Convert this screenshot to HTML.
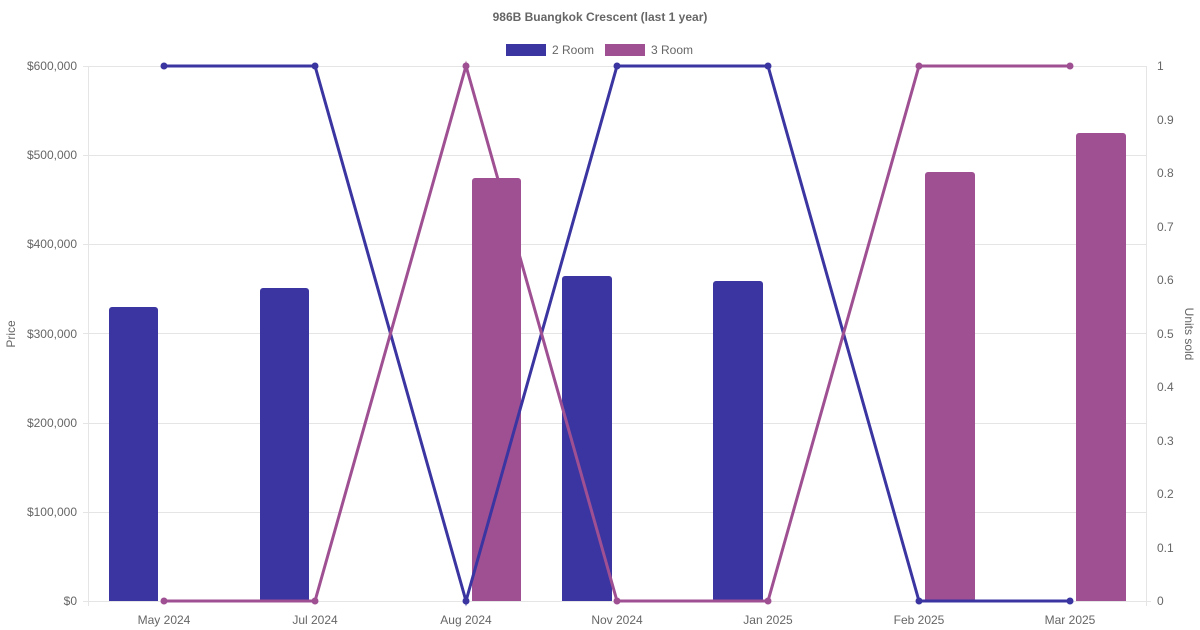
<!DOCTYPE html>
<html><head><style>body{margin:0;background:#fff}svg{display:block}text{font-family:"Liberation Sans",Arial,sans-serif}</style></head>
<body>
<svg width="1200" height="630" xmlns="http://www.w3.org/2000/svg">
<text x="600" y="21" text-anchor="middle" font-size="12" font-weight="bold" fill="#666">986B Buangkok Crescent (last 1 year)</text>
<rect x="506" y="44" width="40" height="12" fill="#3a35a0"/>
<text x="552" y="54" font-size="12" fill="#666">2 Room</text>
<rect x="605" y="44" width="40" height="12" fill="#9f5093"/>
<text x="651" y="54" font-size="12" fill="#666">3 Room</text>
<g stroke="#e5e5e5" stroke-width="1">
<line x1="83" y1="66.5" x2="1146" y2="66.5"/>
<line x1="83" y1="155.5" x2="1146" y2="155.5"/>
<line x1="83" y1="244.5" x2="1146" y2="244.5"/>
<line x1="83" y1="333.5" x2="1146" y2="333.5"/>
<line x1="83" y1="423.5" x2="1146" y2="423.5"/>
<line x1="83" y1="512.5" x2="1146" y2="512.5"/>
<line x1="83" y1="601.5" x2="1151" y2="601.5"/>
<line x1="88.5" y1="66" x2="88.5" y2="606"/>
<line x1="1146.5" y1="66" x2="1146.5" y2="606"/>
</g>
<g font-size="12" fill="#666" text-anchor="end">
<text x="77" y="70">$600,000</text><text x="77" y="159">$500,000</text><text x="77" y="248">$400,000</text><text x="77" y="338">$300,000</text><text x="77" y="427">$200,000</text><text x="77" y="516">$100,000</text><text x="77" y="605">$0</text>
</g>
<g font-size="12" fill="#666">
<text x="1157" y="70">1</text><text x="1157" y="124">0.9</text><text x="1157" y="177">0.8</text><text x="1157" y="231">0.7</text><text x="1157" y="284">0.6</text><text x="1157" y="338">0.5</text><text x="1157" y="391">0.4</text><text x="1157" y="445">0.3</text><text x="1157" y="498">0.2</text><text x="1157" y="552">0.1</text><text x="1157" y="605">0</text>
</g>
<text transform="translate(15,334) rotate(-90)" text-anchor="middle" font-size="12" fill="#666">Price</text>
<text transform="translate(1185,334) rotate(90)" text-anchor="middle" font-size="12" fill="#666">Units sold</text>
<g font-size="12" fill="#666" text-anchor="middle">
<text x="164" y="624">May 2024</text><text x="315" y="624">Jul 2024</text><text x="466" y="624">Aug 2024</text><text x="617" y="624">Nov 2024</text><text x="768" y="624">Jan 2025</text><text x="919" y="624">Feb 2025</text><text x="1070" y="624">Mar 2025</text>
</g>
<g fill="#3a35a0">
<path d="M109,601V310a3,3 0 0 1 3,-3H155a3,3 0 0 1 3,3V601Z"/>
<path d="M260,601V291a3,3 0 0 1 3,-3H306a3,3 0 0 1 3,3V601Z"/>
<path d="M562,601V279a3,3 0 0 1 3,-3H609a3,3 0 0 1 3,3V601Z"/>
<path d="M713,601V284a3,3 0 0 1 3,-3H760a3,3 0 0 1 3,3V601Z"/>
</g>
<g fill="#9f5093">
<path d="M472,601V181a3,3 0 0 1 3,-3H518a3,3 0 0 1 3,3V601Z"/>
<path d="M925,601V175a3,3 0 0 1 3,-3H972a3,3 0 0 1 3,3V601Z"/>
<path d="M1076,601V136a3,3 0 0 1 3,-3H1123a3,3 0 0 1 3,3V601Z"/>
</g>
<polyline fill="none" stroke="#3a35a0" stroke-width="3" points="164,66 315,66 466,601 617,66 768,66 919,601 1070,601"/>
<polyline fill="none" stroke="#9f5093" stroke-width="3" points="164,601 315,601 466,66 617,601 768,601 919,66 1070,66"/>
<g fill="#3a35a0"><circle cx="164" cy="66" r="3.5"/><circle cx="315" cy="66" r="3.5"/><circle cx="466" cy="601" r="3.5"/><circle cx="617" cy="66" r="3.5"/><circle cx="768" cy="66" r="3.5"/><circle cx="919" cy="601" r="3.5"/><circle cx="1070" cy="601" r="3.5"/></g>
<g fill="#9f5093"><circle cx="164" cy="601" r="3.5"/><circle cx="315" cy="601" r="3.5"/><circle cx="466" cy="66" r="3.5"/><circle cx="617" cy="601" r="3.5"/><circle cx="768" cy="601" r="3.5"/><circle cx="919" cy="66" r="3.5"/><circle cx="1070" cy="66" r="3.5"/></g>
</svg>
</body></html>
